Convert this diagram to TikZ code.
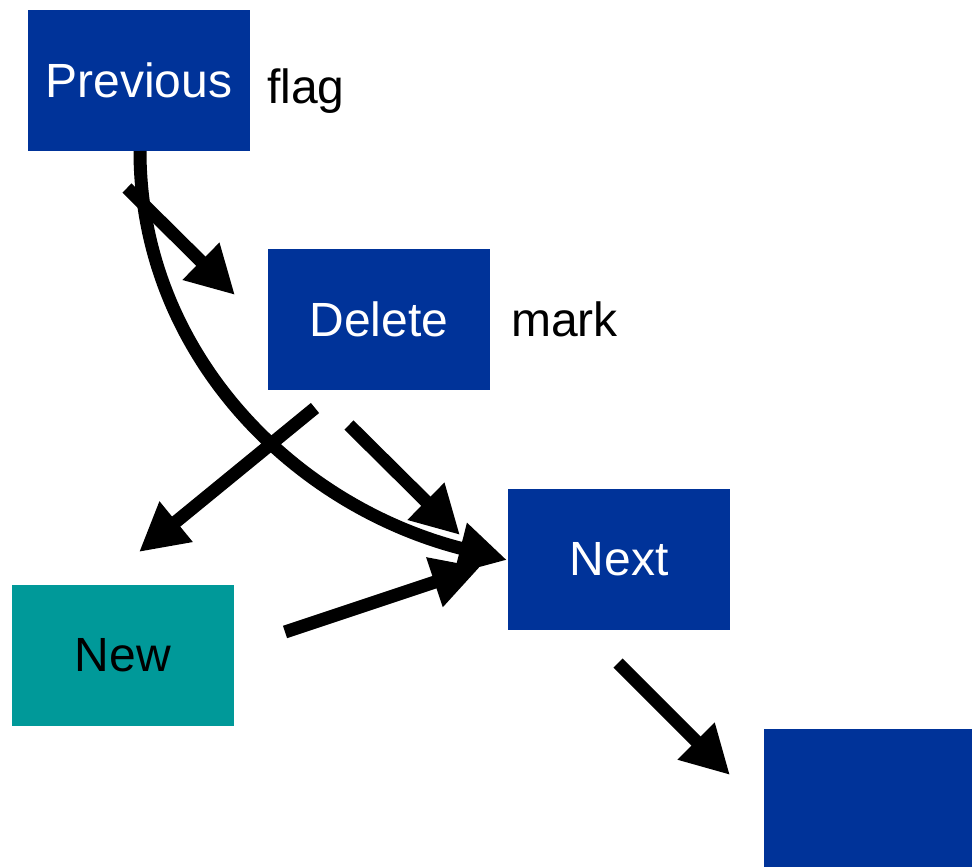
\documentclass[tikz,border=0pt]{standalone}
\usepackage{fontspec}
\setmainfont{Liberation Sans}
\usetikzlibrary{arrows.meta}
\definecolor{boxblue}{HTML}{003399}
\definecolor{boxteal}{HTML}{009999}
\begin{document}
\begin{tikzpicture}[x=1pt,y=-1pt,
  box/.style={fill=boxblue,text=white,minimum width=222pt,minimum height=141pt,inner sep=0pt,font=\fontsize{48}{56}\selectfont},
  lbl/.style={text=black,inner sep=0pt,font=\fontsize{48}{56}\selectfont},
  arr/.style={line width=13pt,-{Triangle[length=48pt,width=49pt]}}]
\useasboundingbox (0,0) rectangle (972,867);
\node[box] (prev) at (139,80.5) {Previous};
\node[box] (del) at (379,319.5) {Delete};
\node[box] (next) at (619,559.5) {Next};
\node[box,fill=boxteal,text=black] (new) at (123,655.5) {New};
\fill[boxblue] (764,729) rectangle (972,867);
\coordinate (last) at (764,729);
\node[lbl,anchor=base west] (flag) at (267,103) {flag};
\node[lbl,anchor=base west] (mark) at (511,336) {mark};
% connectors
\coordinate (t1) at (127,188);
\coordinate (h1) at (235,295);
\draw[arr] (t1) -- (h1);
\coordinate (c0) at (140,151);
\coordinate (ch) at (507,560);
\draw[arr] (c0) .. controls (140,350) and (290,505) .. (ch);
\coordinate (t3) at (315,408);
\coordinate (h3) at (139,552);
\draw[arr] (t3) -- (h3);
\coordinate (t4) at (349,425);
\coordinate (h4) at (460,535);
\draw[arr] (t4) -- (h4);
\coordinate (t5) at (285,632);
\coordinate (h5) at (480,567);
\draw[arr] (t5) -- (h5);
\coordinate (t6) at (618,663);
\coordinate (h6) at (730,775);
\draw[arr] (t6) -- (h6);
\end{tikzpicture}
\end{document}
